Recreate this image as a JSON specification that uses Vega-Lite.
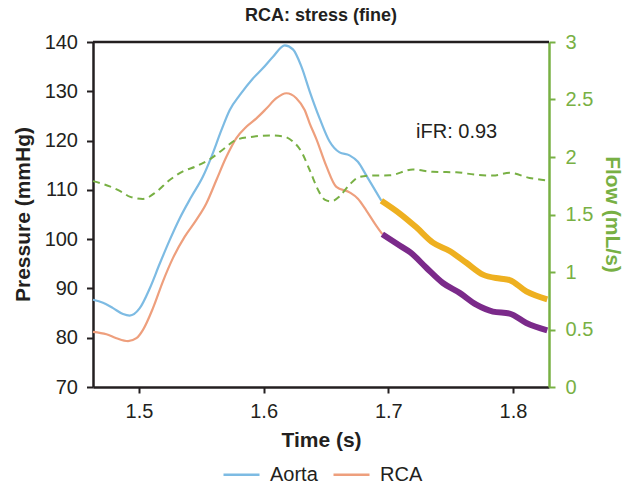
{
  "$schema": "https://vega.github.io/schema/vega-lite/v6.json",
  "width": 456,
  "height": 345,
  "autosize": {"type": "none"},
  "padding": {"left": 93, "top": 42, "right": 86, "bottom": 103},
  "title": {
    "text": "RCA: stress (fine)",
    "fontSize": 18,
    "fontWeight": "bold",
    "font": "Liberation Sans",
    "color": "#231f20",
    "anchor": "middle",
    "frame": "group",
    "offset": 7
  },
  "config": {
    "view": {"stroke": null},
    "font": "Liberation Sans",
    "legend": {"labelFont": "Liberation Sans"}
  },
  "datasets": {
    "pressure": [
      {"t": 1.4631, "P": 87.7, "series": "Aorta"},
      {"t": 1.4711, "P": 87.1, "series": "Aorta"},
      {"t": 1.4792, "P": 86.0, "series": "Aorta"},
      {"t": 1.4872, "P": 84.8, "series": "Aorta"},
      {"t": 1.4925, "P": 84.5, "series": "Aorta"},
      {"t": 1.5006, "P": 86.0, "series": "Aorta"},
      {"t": 1.5086, "P": 90.0, "series": "Aorta"},
      {"t": 1.5166, "P": 95.0, "series": "Aorta"},
      {"t": 1.5246, "P": 99.8, "series": "Aorta"},
      {"t": 1.5326, "P": 104.2, "series": "Aorta"},
      {"t": 1.542, "P": 108.6, "series": "Aorta"},
      {"t": 1.5513, "P": 112.7, "series": "Aorta"},
      {"t": 1.5581, "P": 116.7, "series": "Aorta"},
      {"t": 1.5661, "P": 122.1, "series": "Aorta"},
      {"t": 1.5728, "P": 126.2, "series": "Aorta"},
      {"t": 1.5808, "P": 129.2, "series": "Aorta"},
      {"t": 1.5914, "P": 132.6, "series": "Aorta"},
      {"t": 1.5995, "P": 134.7, "series": "Aorta"},
      {"t": 1.6075, "P": 137.0, "series": "Aorta"},
      {"t": 1.6169, "P": 139.3, "series": "Aorta"},
      {"t": 1.6235, "P": 138.5, "series": "Aorta"},
      {"t": 1.6303, "P": 135.0, "series": "Aorta"},
      {"t": 1.6369, "P": 130.0, "series": "Aorta"},
      {"t": 1.6449, "P": 124.5, "series": "Aorta"},
      {"t": 1.6529, "P": 119.8, "series": "Aorta"},
      {"t": 1.6609, "P": 117.6, "series": "Aorta"},
      {"t": 1.6689, "P": 117.0, "series": "Aorta"},
      {"t": 1.6756, "P": 115.7, "series": "Aorta"},
      {"t": 1.6824, "P": 112.9, "series": "Aorta"},
      {"t": 1.6944, "P": 107.8, "series": "Aorta"},
      {"t": 1.4631, "P": 81.2, "series": "RCA"},
      {"t": 1.4739, "P": 80.7, "series": "RCA"},
      {"t": 1.4819, "P": 79.9, "series": "RCA"},
      {"t": 1.4912, "P": 79.3, "series": "RCA"},
      {"t": 1.4979, "P": 79.9, "series": "RCA"},
      {"t": 1.5032, "P": 81.6, "series": "RCA"},
      {"t": 1.5112, "P": 86.0, "series": "RCA"},
      {"t": 1.5193, "P": 91.5, "series": "RCA"},
      {"t": 1.5273, "P": 96.2, "series": "RCA"},
      {"t": 1.5367, "P": 100.5, "series": "RCA"},
      {"t": 1.546, "P": 103.9, "series": "RCA"},
      {"t": 1.5541, "P": 107.3, "series": "RCA"},
      {"t": 1.5621, "P": 112.0, "series": "RCA"},
      {"t": 1.5701, "P": 116.7, "series": "RCA"},
      {"t": 1.5781, "P": 120.5, "series": "RCA"},
      {"t": 1.5861, "P": 122.8, "series": "RCA"},
      {"t": 1.5942, "P": 124.5, "series": "RCA"},
      {"t": 1.6022, "P": 126.5, "series": "RCA"},
      {"t": 1.6102, "P": 128.6, "series": "RCA"},
      {"t": 1.6182, "P": 129.6, "series": "RCA"},
      {"t": 1.6262, "P": 128.6, "series": "RCA"},
      {"t": 1.6329, "P": 126.2, "series": "RCA"},
      {"t": 1.6369, "P": 123.5, "series": "RCA"},
      {"t": 1.6423, "P": 120.3, "series": "RCA"},
      {"t": 1.6503, "P": 114.8, "series": "RCA"},
      {"t": 1.6583, "P": 110.6, "series": "RCA"},
      {"t": 1.6689, "P": 109.5, "series": "RCA"},
      {"t": 1.6756, "P": 108.2, "series": "RCA"},
      {"t": 1.6824, "P": 105.8, "series": "RCA"},
      {"t": 1.6904, "P": 102.7, "series": "RCA"},
      {"t": 1.6952, "P": 101.0, "series": "RCA"}
    ],
    "aortaWindow": [
      {"t": 1.6944, "P": 107.8},
      {"t": 1.7097, "P": 105.1},
      {"t": 1.7225, "P": 102.4},
      {"t": 1.7358, "P": 99.3},
      {"t": 1.7492, "P": 97.6},
      {"t": 1.7626, "P": 95.2},
      {"t": 1.7759, "P": 92.8},
      {"t": 1.7893, "P": 92.0},
      {"t": 1.7973, "P": 91.7},
      {"t": 1.8107, "P": 89.4},
      {"t": 1.8275, "P": 87.8}
    ],
    "rcaWindow": [
      {"t": 1.6952, "P": 101.0},
      {"t": 1.7097, "P": 98.6},
      {"t": 1.7177, "P": 97.3},
      {"t": 1.7305, "P": 94.2},
      {"t": 1.7438, "P": 91.1},
      {"t": 1.7572, "P": 89.1},
      {"t": 1.7706, "P": 86.7},
      {"t": 1.7839, "P": 85.3},
      {"t": 1.7973, "P": 84.9},
      {"t": 1.8107, "P": 83.0},
      {"t": 1.8275, "P": 81.5}
    ],
    "flow": [
      {"t": 1.4631, "F": 1.79},
      {"t": 1.4765, "F": 1.745},
      {"t": 1.4872, "F": 1.69},
      {"t": 1.4925, "F": 1.655},
      {"t": 1.5032, "F": 1.635},
      {"t": 1.514, "F": 1.698},
      {"t": 1.5246, "F": 1.8},
      {"t": 1.5353, "F": 1.875},
      {"t": 1.546, "F": 1.92},
      {"t": 1.5567, "F": 1.98},
      {"t": 1.5674, "F": 2.065},
      {"t": 1.5781, "F": 2.15},
      {"t": 1.5914, "F": 2.177},
      {"t": 1.6048, "F": 2.187},
      {"t": 1.6155, "F": 2.18},
      {"t": 1.6235, "F": 2.135},
      {"t": 1.6303, "F": 2.046},
      {"t": 1.6369, "F": 1.887},
      {"t": 1.6449, "F": 1.688},
      {"t": 1.6489, "F": 1.63},
      {"t": 1.6543, "F": 1.614},
      {"t": 1.6609, "F": 1.658},
      {"t": 1.6689, "F": 1.76},
      {"t": 1.6769, "F": 1.827},
      {"t": 1.6877, "F": 1.839},
      {"t": 1.7011, "F": 1.841},
      {"t": 1.7197, "F": 1.891},
      {"t": 1.7358, "F": 1.871},
      {"t": 1.7545, "F": 1.867},
      {"t": 1.7706, "F": 1.845},
      {"t": 1.7839, "F": 1.839},
      {"t": 1.7973, "F": 1.862},
      {"t": 1.8133, "F": 1.818},
      {"t": 1.828, "F": 1.795}
    ],
    "note": [
      {"t": 1.7548, "P": 121.8, "label": "iFR: 0.93"}
    ]
  },
  "layer": [
    {
      "layer": [
        {
          "data": {"name": "pressure"},
          "mark": {"type": "line", "interpolate": "monotone", "strokeWidth": 2.2},
          "encoding": {
            "x": {
              "field": "t",
              "type": "quantitative",
              "scale": {"domain": [1.4631, 1.8289], "nice": false, "zero": false},
              "axis": {
                "values": [1.5, 1.6, 1.7, 1.8],
                "format": ".1f",
                "grid": false,
                "labelFlush": false,
                "labelFontSize": 20,
                "labelColor": "#231f20",
                "labelPadding": 8,
                "tickColor": "#231f20",
                "tickSize": 6,
                "tickWidth": 2,
                "domainColor": "#231f20",
                "domainWidth": 2.5,
                "title": "Time (s)",
                "titleFontSize": 21,
                "titleFontWeight": "bold",
                "titleColor": "#231f20",
                "titleX": 228,
                "titleY": 53,
                "titleBaseline": "middle",
                "titleAnchor": null
              }
            },
            "y": {
              "field": "P",
              "type": "quantitative",
              "scale": {"domain": [70, 140], "nice": false, "zero": false},
              "axis": {
                "values": [70, 80, 90, 100, 110, 120, 130, 140],
                "grid": false,
                "labelFlush": false,
                "labelFontSize": 20,
                "labelColor": "#231f20",
                "labelPadding": 9,
                "tickColor": "#231f20",
                "tickSize": 6.5,
                "tickWidth": 2,
                "domainColor": "#231f20",
                "domainWidth": 2.5,
                "title": "Pressure (mmHg)",
                "titleFontSize": 21,
                "titleFontWeight": "bold",
                "titleColor": "#231f20",
                "titleX": -70,
                "titleY": 172,
                "titleAngle": -90,
                "titleBaseline": "middle",
                "titleAnchor": null
              }
            },
            "color": {
              "field": "series",
              "type": "nominal",
              "scale": {"domain": ["Aorta", "RCA"], "range": ["#7dbbe3", "#ee9f7d"]},
              "legend": {
                "title": null,
                "orient": "none",
                "direction": "horizontal",
                "legendX": 129,
                "legendY": 413,
                "symbolType": "stroke",
                "symbolSize": 1296,
                "symbolStrokeWidth": 2.5,
                "labelFontSize": 20,
                "labelColor": "#231f20",
                "labelOffset": 9,
                "columnPadding": 10
              }
            }
          }
        },
        {
          "data": {"name": "aortaWindow"},
          "mark": {"type": "line", "interpolate": "monotone", "strokeWidth": 6, "color": "#eeb020"},
          "encoding": {
            "x": {"field": "t", "type": "quantitative"},
            "y": {"field": "P", "type": "quantitative"}
          }
        },
        {
          "data": {"name": "rcaWindow"},
          "mark": {"type": "line", "interpolate": "monotone", "strokeWidth": 6, "color": "#7b2a8a"},
          "encoding": {
            "x": {"field": "t", "type": "quantitative"},
            "y": {"field": "P", "type": "quantitative"}
          }
        },
        {
          "data": {"name": "note"},
          "mark": {"type": "text", "fontSize": 20, "color": "#231f20", "align": "center", "baseline": "middle"},
          "encoding": {
            "x": {"field": "t", "type": "quantitative"},
            "y": {"field": "P", "type": "quantitative"},
            "text": {"field": "label"}
          }
        },
        {
          "data": {"name": "note"},
          "mark": {"type": "rule", "color": "#231f20", "strokeWidth": 2.5},
          "encoding": {
            "y": {"datum": 140, "type": "quantitative"}
          }
        }
      ]
    },
    {
      "data": {"name": "flow"},
      "mark": {"type": "line", "interpolate": "monotone", "strokeWidth": 2, "strokeDash": [7, 5], "color": "#78b044"},
      "encoding": {
        "x": {"field": "t", "type": "quantitative"},
        "y": {
          "field": "F",
          "type": "quantitative",
          "scale": {"domain": [0, 3], "nice": false},
          "axis": {
            "orient": "right",
            "values": [0, 0.5, 1, 1.5, 2, 2.5, 3],
            "format": "~g",
            "grid": false,
            "labelFlush": false,
            "labelFontSize": 20,
            "labelColor": "#78b044",
            "labelPadding": 10,
            "tickColor": "#78b044",
            "tickSize": 6,
            "tickWidth": 2,
            "domainColor": "#78b044",
            "domainWidth": 2.5,
            "title": "Flow (mL/s)",
            "titleFontSize": 21,
            "titleFontWeight": "bold",
            "titleColor": "#78b044",
            "titleX": 62,
            "titleY": 172,
            "titleAngle": 90,
            "titleBaseline": "middle",
            "titleAnchor": null
          }
        }
      }
    }
  ],
  "resolve": {"scale": {"y": "independent"}}
}
